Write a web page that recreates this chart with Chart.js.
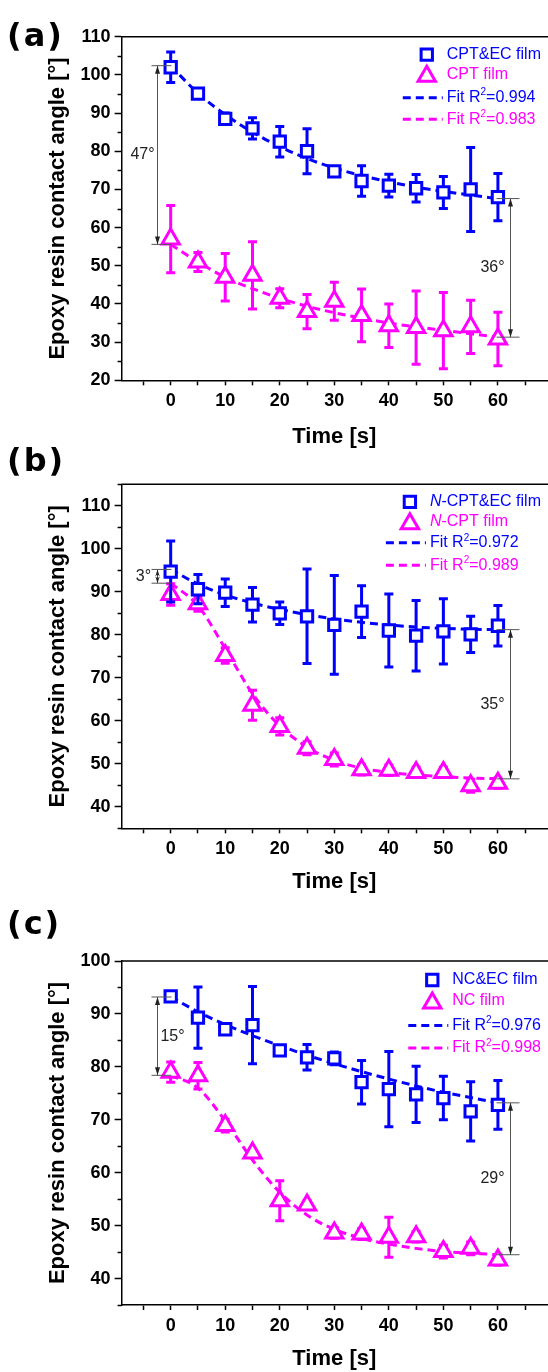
<!DOCTYPE html>
<html>
<head>
<meta charset="utf-8">
<script src="https://cdn.jsdelivr.net/npm/chart.js@4.4.1/dist/chart.umd.min.js"></script>
<style>
  html, body { margin: 0; padding: 0; background: #fff; overflow: hidden; }
  body { width: 548px; height: 1372px; position: relative; }
  canvas { position: absolute; left: 0; }
  .tag { position: absolute; left: 7px; line-height: 1; letter-spacing: 2px; font: bold 32px "DejaVu Sans", sans-serif; color: #000; }
</style>
</head>
<body>
<canvas id="chartA" width="560" height="450" style="top:0"></canvas>
<canvas id="chartB" width="560" height="450" style="top:445px"></canvas>
<canvas id="chartC" width="560" height="477" style="top:895px"></canvas>
<div class="tag" style="top:16px">(a)</div>
<div class="tag" style="top:441px">(b)</div>
<div class="tag" style="top:904px">(c)</div>
<script>
// sampling times, seconds
const times = [0, 5, 10, 15, 20, 25, 30, 35, 40, 45, 50, 55, 60];
const xTicks = [0, 10, 20, 30, 40, 50, 60];

// (a) CPT&EC vs CPT
const cptEcA     = [102, 95.1, 88.5, 86, 82.5, 80, 74.7, 72.2, 71, 70.3, 69.2, 70, 68];
const cptEcErrA  = [4, 0.6, 1.5, 2.8, 4, 5.9, 0.7, 4, 3, 3.6, 4.2, 11, 6.2];
const cptA       = [57, 51, 47, 47.5, 41.5, 38, 40.7, 37, 34.3, 33.8, 33, 34, 30.8];
const cptErrA    = [8.8, 2.5, 6.2, 8.8, 2.5, 4.5, 5, 6.9, 5.7, 9.6, 10, 7, 7];
const cptEcFitA  = [102.4, 95.2, 89.6, 85.0, 81.2, 78.1, 75.6, 73.6, 72.0, 70.6, 69.5, 68.5, 67.6];
const cptFitA    = [55.6, 51.0, 47.0, 44.0, 41.5, 39.4, 37.7, 36.3, 35.0, 34.0, 33.1, 32.2, 31.3];
const namesA = ['CPT&EC film', 'CPT film'];
const r2A    = ['0.994', '0.983'];
const gapsA  = ['47°', '36°'];
const yRangeA = [20, 110];
const yTicksA = [20, 30, 40, 50, 60, 70, 80, 90, 100, 110];

// (b) N-CPT&EC vs N-CPT
const ncptEcB    = [94.7, 90.6, 89.8, 87, 85, 84.3, 82.3, 85.4, 81, 79.8, 80.8, 80.1, 82.1];
const ncptEcErrB = [7.1, 3.4, 3.2, 4, 2.6, 11, 11.5, 6, 8.5, 8.2, 7.6, 4.2, 4.7];
const ncptB      = [89.4, 87.2, 75.2, 63.6, 58.7, 53.6, 51, 48.6, 48.5, 48, 48, 44.9, 45.5];
const ncptErrB   = [2.5, 1.7, 1.8, 3.5, 2, 1.5, 1.5, 1.2, 1.2, 1.2, 1.2, 1.5, 1.2];
const ncptEcFitB = [95.2, 91.8, 89.3, 87.4, 85.9, 84.7, 83.7, 82.9, 82.3, 81.8, 81.5, 81.3, 81.2];
const ncptFitB   = [92.0, 86.8, 76.8, 66.3, 58.8, 53.9, 50.8, 49.0, 48.0, 47.4, 47.0, 46.7, 46.5];
const namesB = ['N-CPT&EC film', 'N-CPT film'];
const r2B    = ['0.972', '0.989'];
const gapsB  = ['3°', '35°'];
const yRangeB = [35, 115];
const yTicksB = [40, 50, 60, 70, 80, 90, 100, 110];

// (c) NC&EC vs NC
const ncEcC      = [93.3, 89.3, 87.1, 87.9, 83.1, 81.8, 81.6, 77.1, 75.8, 74.8, 74.1, 71.6, 72.8];
const ncEcErrC   = [0.8, 5.8, 0.8, 7.3, 0.8, 2.4, 1.2, 4.1, 7.1, 5.3, 4.1, 5.6, 4.6];
const ncC        = [79, 78.3, 68.9, 63.7, 54.7, 53.9, 48.6, 48.4, 47.8, 47.9, 45.1, 45.7, 43.5];
const ncErrC     = [1.9, 2.5, 1.2, 0.8, 3.8, 0.8, 1, 1, 3.8, 1, 1.2, 1.2, 1];
const ncEcFitC   = [93.2, 90.4, 88.0, 85.9, 84.0, 82.2, 80.6, 79.1, 77.7, 76.4, 75.2, 74.2, 73.2];
const ncFitC     = [78.4, 76.0, 69.8, 62.4, 56.3, 52.0, 49.3, 47.6, 46.5, 45.7, 45.1, 44.8, 44.5];
const namesC = ['NC&EC film', 'NC film'];
const r2C    = ['0.976', '0.998'];
const gapsC  = ['15°', '29°'];
const yRangeC = [35, 100];
const yTicksC = [40, 50, 60, 70, 80, 90, 100];

const xRange = [-9, 69];
const xTitle = 'Time [s]';
const yTitle = 'Epoxy resin contact angle [°]';

const BLUE = '#0000ff';
const PINK = '#ff00ff';
const FONT = '"Liberation Sans", Arial, Helvetica, sans-serif';

// vertical error bars, painted just before the marker dataset
const errorBars = {
  id: 'errorBars',
  beforeDatasetDraw(chart, args) {
    const ds = chart.data.datasets[args.index];
    if (!ds.errors) return;
    const { ctx, scales: { x, y } } = chart;
    ctx.save();
    ctx.strokeStyle = ds.pointBorderColor;
    ctx.lineWidth = 3;
    ds.data.forEach((p, i) => {
      const px = x.getPixelForValue(p.x);
      const top = y.getPixelForValue(p.y + ds.errors[i]);
      const bot = y.getPixelForValue(p.y - ds.errors[i]);
      ctx.beginPath();
      ctx.moveTo(px, top); ctx.lineTo(px, bot);
      ctx.moveTo(px - 4.5, top); ctx.lineTo(px + 4.5, top);
      ctx.moveTo(px - 4.5, bot); ctx.lineTo(px + 4.5, bot);
      ctx.stroke();
    });
    ctx.restore();
  }
};

// top frame line and minor y ticks
const frame = {
  id: 'frame',
  afterDraw(chart) {
    const { ctx, chartArea: a, scales: { y } } = chart;
    ctx.save();
    ctx.strokeStyle = '#000';
    ctx.lineWidth = 1.5;
    ctx.beginPath();
    ctx.moveTo(a.left, a.top); ctx.lineTo(a.right + 2, a.top);
    for (let v = Math.ceil(y.min / 5) * 5; v <= y.max; v += 5) {
      if (v % 10 === 0) continue;
      const py = Math.round(y.getPixelForValue(v)) + 0.5;
      ctx.moveTo(a.left - 4, py); ctx.lineTo(a.left, py);
    }
    ctx.stroke();
    ctx.restore();
  }
};

// difference brackets between the two fitted curves
const gapMarks = {
  id: 'gapMarks',
  afterDatasetsDraw(chart, args, opts) {
    const { ctx, scales: { x, y } } = chart;
    ctx.save();
    opts.items.forEach(m => {
      const px = Math.round(x.getPixelForValue(m.x)) + 0.5;
      const y1 = y.getPixelForValue(m.hi);
      const y2 = y.getPixelForValue(m.lo);
      ctx.strokeStyle = '#555';
      ctx.lineWidth = 1;
      ctx.beginPath();
      ctx.moveTo(px + m.from, y1); ctx.lineTo(px + m.to, y1);
      ctx.moveTo(px + m.from, y2); ctx.lineTo(px + m.to, y2);
      ctx.moveTo(px, y1); ctx.lineTo(px, y2);
      ctx.stroke();
      ctx.fillStyle = '#222';
      ctx.beginPath();
      ctx.moveTo(px, y1); ctx.lineTo(px - 2.5, y1 + 8); ctx.lineTo(px + 2.5, y1 + 8); ctx.closePath();
      ctx.moveTo(px, y2); ctx.lineTo(px - 2.5, y2 - 8); ctx.lineTo(px + 2.5, y2 - 8); ctx.closePath();
      ctx.fill();
      ctx.font = '16px ' + FONT;
      ctx.textAlign = 'center';
      ctx.textBaseline = 'middle';
      ctx.fillText(m.label, px + m.dx, (y1 + y2) / 2);
    });
    ctx.restore();
  }
};

function partFont(p) {
  if (p.sup) return '10px ' + FONT;
  return (p.it ? 'italic ' : '') + '16px ' + FONT;
}

function partsWidth(ctx, parts) {
  return parts.reduce((w, p) => { ctx.font = partFont(p); return w + ctx.measureText(p.t).width; }, 0);
}

// legend block in the upper right of the plot
const legendBox = {
  id: 'legendBox',
  afterDraw(chart, args, opts) {
    const { ctx, chartArea: a } = chart;
    ctx.save();
    const left = opts.right - Math.max(...opts.entries.map(e => partsWidth(ctx, e.parts)));
    opts.entries.forEach((e, i) => {
      const ds = chart.data.datasets[e.ds];
      const y = a.top + opts.rows[i];
      if (ds.showLine) {
        ctx.strokeStyle = ds.borderColor;
        ctx.lineWidth = 3;
        ctx.setLineDash([8, 5]);
        ctx.beginPath();
        ctx.moveTo(left - 44, y); ctx.lineTo(left - 4, y);
        ctx.stroke();
        ctx.setLineDash([]);
      } else {
        ctx.fillStyle = '#fff';
        ctx.strokeStyle = ds.pointBorderColor;
        ctx.lineWidth = ds.pointBorderWidth;
        Chart.helpers.drawPoint(ctx, {
          pointStyle: ds.pointStyle, radius: ds.pointRadius,
          borderWidth: ds.pointBorderWidth, rotation: 0
        }, left - 20, y + (ds.pointStyle === 'triangle' ? 2 : 0));
      }
      ctx.fillStyle = ds.pointBorderColor || ds.borderColor;
      ctx.textAlign = 'left';
      ctx.textBaseline = 'middle';
      let tx = left;
      e.parts.forEach(p => {
        ctx.font = partFont(p);
        ctx.fillText(p.t, tx, p.sup ? y - 5 : y);
        tx += ctx.measureText(p.t).width;
      });
    });
    ctx.restore();
  }
};

function seriesParts(name, italicLead) {
  return italicLead ? [{ t: name[0], it: true }, { t: name.slice(1) }] : [{ t: name }];
}

function fitParts(r2) {
  return [{ t: 'Fit R' }, { t: '2', sup: true }, { t: '=' + r2 }];
}

function panel(id, p) {
  const pts = vals => times.map((t, i) => ({ x: t, y: vals[i] }));
  const marker = (vals, errs, color, style, r) => ({
    data: pts(vals), errors: errs, showLine: false,
    pointStyle: style, pointRadius: r, pointBorderWidth: 3,
    pointBackgroundColor: '#fff', pointBorderColor: color, order: 1
  });
  const fit = (vals, color) => ({
    data: pts(vals), showLine: true, borderColor: color, borderWidth: 3,
    borderDash: [8, 5], pointRadius: 0, cubicInterpolationMode: 'monotone', order: 2
  });
  new Chart(document.getElementById(id), {
    type: 'scatter',
    data: {
      datasets: [
        marker(p.ec, p.ecErr, BLUE, 'rect', 8),
        marker(p.plain, p.plainErr, PINK, 'triangle', 10),
        fit(p.ecFit, BLUE),
        fit(p.plainFit, PINK)
      ]
    },
    options: {
      responsive: false,
      animation: false,
      events: [],
      layout: { padding: { top: p.top, right: 10.2, left: 0, bottom: 0 } },
      scales: {
        x: {
          type: 'linear', min: xRange[0], max: xRange[1],
          afterFit(s) { s.height = p.axisH; },
          ticks: {
            stepSize: 5, includeBounds: false, padding: 5, color: '#000',
            font: { family: FONT, size: 18, weight: 'bold' },
            callback: v => xTicks.includes(v) ? String(v) : ''
          },
          grid: { drawOnChartArea: false, drawTicks: true, tickLength: 5, tickColor: '#000', tickWidth: 1.5 },
          border: { color: '#000', width: 1.5 },
          title: {
            display: true, text: xTitle, color: '#000', padding: { top: 0, bottom: 0 },
            font: { family: FONT, size: 22, weight: 'bold' }
          }
        },
        y: {
          min: p.yRange[0], max: p.yRange[1],
          afterFit(s) { s.width = 121.6; },
          afterBuildTicks(s) { s.ticks = p.yTicks.map(v => ({ value: v })); },
          ticks: {
            padding: 4, color: '#000',
            font: { family: FONT, size: 18, weight: 'bold' }
          },
          grid: { drawOnChartArea: false, drawTicks: true, tickLength: 7, tickColor: '#000', tickWidth: 1.5 },
          border: { color: '#000', width: 1.5 },
          title: {
            display: true, text: yTitle, color: '#000', padding: { top: 45, bottom: 0 },
            font: { family: FONT, size: 22, weight: 'bold' }
          }
        }
      },
      plugins: {
        legend: { display: false },
        tooltip: { enabled: false },
        legendBox: {
          right: 541,
          rows: p.legendRows,
          entries: [
            { ds: 0, parts: seriesParts(p.names[0], p.italicLead) },
            { ds: 1, parts: seriesParts(p.names[1], p.italicLead) },
            { ds: 2, parts: fitParts(p.r2[0]) },
            { ds: 3, parts: fitParts(p.r2[1]) }
          ]
        },
        gapMarks: {
          items: [
            { x: -2.5, hi: p.ecFit[0], lo: p.plainFit[0], from: -6, to: 14, dx: p.leftDx, label: p.gaps[0] },
            { x: 62.3, hi: p.ecFit[12], lo: p.plainFit[12], from: -14, to: 9, dx: -18, label: p.gaps[1] }
          ]
        }
      }
    },
    plugins: [errorBars, frame, gapMarks, legendBox]
  });
}

panel('chartA', {
  ec: cptEcA, ecErr: cptEcErrA, plain: cptA, plainErr: cptErrA,
  ecFit: cptEcFitA, plainFit: cptFitA, names: namesA, r2: r2A, gaps: gapsA,
  yRange: yRangeA, yTicks: yTicksA, top: 36.7, axisH: 69.7, leftDx: -15, italicLead: false,
  legendRows: [18, 37.5, 61, 82.5]
});
panel('chartB', {
  ec: ncptEcB, ecErr: ncptEcErrB, plain: ncptB, plainErr: ncptErrB,
  ecFit: ncptEcFitB, plainFit: ncptFitB, names: namesB, r2: r2B, gaps: gapsB,
  yRange: yRangeB, yTicks: yTicksB, top: 39.3, axisH: 66.7, leftDx: -14, italicLead: true,
  legendRows: [17.5, 37.5, 58.5, 81]
});
panel('chartC', {
  ec: ncEcC, ecErr: ncEcErrC, plain: ncC, plainErr: ncErrC,
  ecFit: ncEcFitC, plainFit: ncFitC, names: namesC, r2: r2C, gaps: gapsC,
  yRange: yRangeC, yTicks: yTicksC, top: 66, axisH: 67, leftDx: 15, italicLead: false,
  legendRows: [19, 40, 64.5, 87]
});
</script>
</body>
</html>
